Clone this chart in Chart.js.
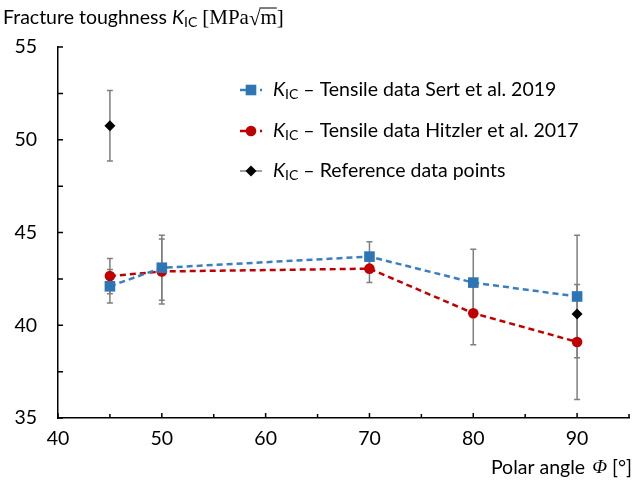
<!DOCTYPE html>
<html>
<head>
<meta charset="utf-8">
<script src="https://cdn.jsdelivr.net/npm/chart.js@4.4.1/dist/chart.umd.min.js"></script>
<style>
  html, body { margin: 0; padding: 0; background: #fff; }
  #wrap { width: 638px; height: 483px; }
</style>
</head>
<body>
<div id="wrap"><canvas id="myChart"></canvas></div>
<script>
// Polar angle values (x) and fracture toughness readings (y)
const angles = [45, 50, 70, 80, 90];
const sertValues = [42.1, 43.1, 43.7, 42.3, 41.55];
const sertLow = [41.2, 41.35, 42.9, 40.5, 38.25];
const sertHigh = [43.0, 44.85, 44.5, 44.1, 44.85];
const hitzlerValues = [42.65, 42.9, 43.05, 40.65, 39.1];
const hitzlerLow = [41.7, 41.15, 42.3, 38.95, 36.0];
const hitzlerHigh = [43.6, 44.65, 43.8, 42.4, 42.2];
const refAngles = [45, 90];
const refValues = [50.75, 40.6];
const refLow = [48.85, null];
const refHigh = [52.65, null];
const xTicks = [40, 50, 60, 70, 80, 90];
const yTicks = [35, 40, 45, 50, 55];

const FONT = "Lato, 'Open Sans', sans-serif";
const SERIF = "'Liberation Serif', 'DejaVu Serif', serif";
const FS = 19.5;

function toPoints(xs, ys) {
    return xs.map((x, i) => ({ x: x, y: ys[i] }));
}

// draws "K" italic with "IC" subscript, returns new x
function drawK(ctx, x, y, size) {
    ctx.font = "italic " + size + "px " + FONT;
    ctx.fillText("K", x, y);
    x += ctx.measureText("K").width;
    ctx.font = (size * 0.72) + "px " + FONT;
    ctx.fillText("IC", x, y + size * 0.25);
    return x + ctx.measureText("IC").width;
}

// Error bars drawn behind the lines
const errorBars = {
    id: "errorBars",
    beforeDatasetsDraw(chart) {
        const ctx = chart.ctx;
        const xs = chart.scales.x, ys = chart.scales.y;
        const sets = [
            [angles, sertLow, sertHigh],
            [angles, hitzlerLow, hitzlerHigh],
            [refAngles, refLow, refHigh]
        ];
        ctx.save();
        ctx.strokeStyle = "#7f7f7f";
        ctx.lineWidth = 1.5;
        sets.forEach(([ax, lo, hi]) => {
            ax.forEach((a, i) => {
                if (lo[i] == null) return;
                const px = xs.getPixelForValue(a);
                const p1 = ys.getPixelForValue(lo[i]);
                const p2 = ys.getPixelForValue(hi[i]);
                ctx.beginPath();
                ctx.moveTo(px, p1); ctx.lineTo(px, p2);
                ctx.moveTo(px - 3, p1); ctx.lineTo(px + 3, p1);
                ctx.moveTo(px - 3, p2); ctx.lineTo(px + 3, p2);
                ctx.stroke();
            });
        });
        ctx.restore();
    }
};

// Inward tick marks, axis titles and legend
const decorations = {
    id: "decorations",
    afterDraw(chart) {
        const ctx = chart.ctx;
        const xs = chart.scales.x, ys = chart.scales.y;
        const area = chart.chartArea;
        ctx.save();
        ctx.strokeStyle = "#000";
        ctx.lineWidth = 1.5;
        ctx.beginPath();
        for (let v = 40; v <= 95; v += 5) {
            const px = xs.getPixelForValue(v);
            ctx.moveTo(px, area.bottom);
            ctx.lineTo(px, area.bottom - (v % 10 === 0 ? 5 : 4));
        }
        for (let v = 35; v <= 55; v += 2.5) {
            const py = ys.getPixelForValue(v);
            ctx.moveTo(area.left, py);
            ctx.lineTo(area.left + 5, py);
        }
        ctx.stroke();

        ctx.fillStyle = "#000";
        ctx.textBaseline = "middle";
        ctx.textAlign = "left";
        // y title
        let x = 3, y = 18, size = FS;
        ctx.font = size + "px " + FONT;
        ctx.fillText("Fracture toughness ", x, y);
        x += ctx.measureText("Fracture toughness ").width;
        x = drawK(ctx, x, y, size);
        ctx.font = "21px " + SERIF;
        x += 5;
        ctx.fillText("[MPa", x, y);
        x += ctx.measureText("[MPa").width;
        ctx.fillText("\u221A", x, y + 1);
        x += ctx.measureText("\u221A").width;
        const mw = ctx.measureText("m").width;
        ctx.beginPath();
        ctx.lineWidth = 1;
        ctx.moveTo(x - 1, y - 10); ctx.lineTo(x + mw, y - 10);
        ctx.stroke();
        ctx.fillText("m]", x, y);

        // x title
        ctx.textAlign = "right";
        ctx.font = FS + "px " + FONT;
        ctx.fillText("[\u00B0]", 632, 468);
        let rx = 632 - ctx.measureText("[\u00B0]").width - 5;
        ctx.font = "italic " + FS + "px " + SERIF;
        ctx.fillText("\u03A6", rx, 468);
        rx -= ctx.measureText("\u03A6").width + 7;
        ctx.font = FS + "px " + FONT;
        ctx.fillText("Polar angle", rx, 468);

        // legend
        ctx.textAlign = "left";
        const rows = [90, 131, 171];
        const labels = ["Tensile data Sert et al. 2019", "Tensile data Hitzler et al. 2017", "Reference data points"];
        chart.data.datasets.forEach((ds, i) => {
            const ly = rows[i];
            ctx.save();
            ctx.strokeStyle = ds.borderColor;
            ctx.lineWidth = ds.borderWidth;
            if (ds.showLine) ctx.setLineDash(ds.borderDash);
            ctx.beginPath();
            ctx.moveTo(240, ly); ctx.lineTo(262, ly);
            ctx.stroke();
            ctx.restore();
            ctx.fillStyle = ds.pointBackgroundColor;
            const r = ds.pointRadius;
            ctx.beginPath();
            if (ds.pointStyle === "rect") {
                const s = r * Math.SQRT1_2;
                ctx.fillRect(251 - s, ly - s, s * 2, s * 2);
            } else if (ds.pointStyle === "rectRot") {
                ctx.moveTo(251, ly - r); ctx.lineTo(251 + r, ly); ctx.lineTo(251, ly + r); ctx.lineTo(251 - r, ly);
                ctx.fill();
            } else {
                ctx.arc(251, ly, r, 0, Math.PI * 2);
                ctx.fill();
            }
            ctx.fillStyle = "#000";
            let tx = drawK(ctx, 273, ly, FS);
            ctx.font = FS + "px " + FONT;
            ctx.fillText(" \u2013 " + labels[i], tx, ly);
        });
        ctx.restore();
    }
};

const ctx = document.getElementById("myChart").getContext("2d");
new Chart(ctx, {
    type: "line",
    data: {
        datasets: [
            {
                label: "Sert",
                data: toPoints(angles, sertValues),
                borderColor: "#3a7dc0",
                backgroundColor: "#3a7dc0",
                pointBackgroundColor: "#2e75b6",
                pointBorderColor: "#2e75b6",
                pointStyle: "rect",
                pointRadius: 7.5,
                pointBorderWidth: 0,
                borderWidth: 2.5,
                borderDash: [6, 4],
                showLine: true
            },
            {
                label: "Hitzler",
                data: toPoints(angles, hitzlerValues),
                borderColor: "#c00000",
                backgroundColor: "#c00000",
                pointBackgroundColor: "#c00000",
                pointBorderColor: "#c00000",
                pointStyle: "circle",
                pointRadius: 5.3,
                pointBorderWidth: 0,
                borderWidth: 2.5,
                borderDash: [6, 4],
                showLine: true
            },
            {
                label: "Reference",
                data: toPoints(refAngles, refValues),
                borderColor: "#808080",
                backgroundColor: "#000",
                pointBackgroundColor: "#000",
                pointBorderColor: "#000",
                pointStyle: "rectRot",
                pointRadius: 5.5,
                pointBorderWidth: 0,
                borderWidth: 1.5,
                borderDash: [],
                showLine: false
            }
        ]
    },
    options: {
        responsive: true,
        maintainAspectRatio: false,
        animation: false,
        layout: { padding: { top: 47, right: 7, left: 0, bottom: 0 } },
        plugins: {
            legend: { display: false },
            tooltip: { enabled: false }
        },
        scales: {
            x: {
                type: "linear",
                min: 40,
                max: 95,
                afterFit: (scale) => { scale.height = 65; },
                grid: { display: false, drawTicks: false },
                border: { display: true, color: "#000", width: 1.5 },
                ticks: {
                    stepSize: 10,
                    padding: 9,
                    color: "#000",
                    font: { family: FONT, size: FS },
                    callback: (v) => (xTicks.includes(v) ? v : "")
                }
            },
            y: {
                min: 35,
                max: 55,
                afterFit: (scale) => { scale.width = 58; },
                grid: { display: false, drawTicks: false },
                border: { display: true, color: "#000", width: 1.5 },
                ticks: {
                    stepSize: 5,
                    padding: 21,
                    color: "#000",
                    font: { family: FONT, size: FS },
                    callback: (v) => (yTicks.includes(v) ? v : "")
                }
            }
        }
    },
    plugins: [errorBars, decorations]
});
</script>
</body>
</html>
